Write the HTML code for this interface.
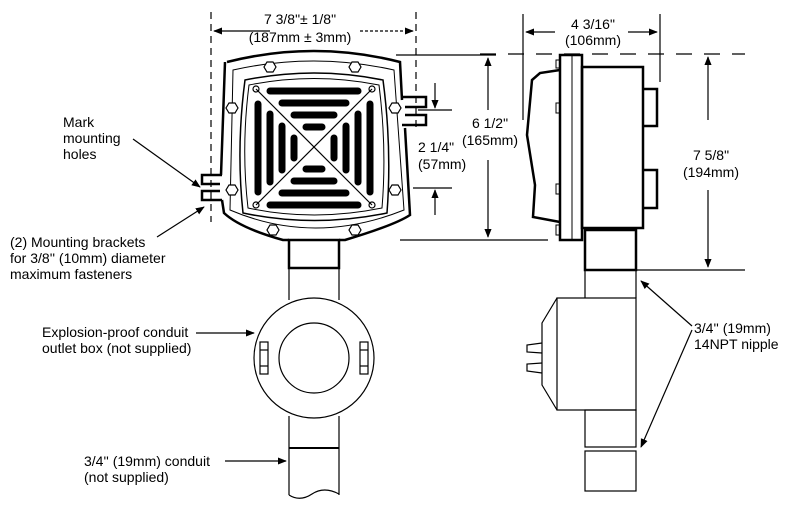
<!DOCTYPE html>
<html><head><meta charset="utf-8"><style>
html,body{margin:0;padding:0;background:#fff;}
svg{display:block;}
text{font-family:"Liberation Sans",sans-serif;font-size:14px;fill:#000;}
</style></head><body>
<svg width="798" height="510" viewBox="0 0 798 510" xmlns="http://www.w3.org/2000/svg">
<defs>
<marker id="ah" viewBox="0 0 10 10" refX="9" refY="5" markerWidth="9" markerHeight="9" orient="auto-start-reverse" markerUnits="userSpaceOnUse"><path d="M0,1 L10,5 L0,9 z" fill="#000"/></marker>
</defs>
<g fill="none" stroke="#000" stroke-width="1.2">
<g>
<line x1="211" y1="12" x2="211" y2="222" stroke-dasharray="7,5"/>
<line x1="416" y1="12" x2="416" y2="130" stroke-dasharray="7,5"/>
<line x1="270" y1="31" x2="214" y2="31" marker-end="url(#ah)"/>
<line x1="360" y1="31" x2="413" y2="31" marker-end="url(#ah)" stroke-dasharray="3,2"/>
</g>
<g>
<line x1="396" y1="55" x2="496" y2="55"/>
<line x1="400" y1="240" x2="496" y2="240"/>
<line x1="488" y1="110" x2="488" y2="58" marker-end="url(#ah)"/>
<line x1="488" y1="160" x2="488" y2="237" marker-end="url(#ah)"/>
</g>
<g>
<line x1="418" y1="110" x2="452" y2="110"/>
<line x1="413" y1="188" x2="452" y2="188"/>
<line x1="435" y1="83" x2="435" y2="108" marker-end="url(#ah)"/>
<line x1="435" y1="215" x2="435" y2="190" marker-end="url(#ah)"/>
</g>
<g stroke-width="2.5">
<path d="M227,62 Q314,40 400,62 L402,100 M405,128 L410,215 Q395,225 345,240 L339,240 M289,240 L283,240 Q240,228 224,213 L222,200 M221,175 L225,62" />
<path d="M233,70 Q314,52 394,70 L404,210 Q314,246 230,210 Z" stroke-width="1"/>
<path d="M245,80 Q314,66 383,80 Q392,148 387,213 Q314,228 243,213 Q236,148 245,80 Z" stroke-width="1.5"/>
<path d="M249,85 Q314,72 379,85 Q387,148 382,208 Q314,222 248,208 Q241,148 249,85 Z" stroke-width="1"/>
</g>
<g stroke-width="7" stroke-linecap="round">
<line x1="270" y1="91" x2="358" y2="91"/><line x1="282" y1="103" x2="346" y2="103"/><line x1="294" y1="115" x2="334" y2="115"/><line x1="306" y1="127" x2="322" y2="127"/>
<line x1="270" y1="205" x2="358" y2="205"/><line x1="282" y1="193" x2="346" y2="193"/><line x1="294" y1="181" x2="334" y2="181"/><line x1="306" y1="169" x2="322" y2="169"/>
<line x1="258" y1="104" x2="258" y2="192"/><line x1="270" y1="114" x2="270" y2="182"/><line x1="282" y1="126" x2="282" y2="170"/><line x1="294" y1="138" x2="294" y2="158"/>
<line x1="370" y1="104" x2="370" y2="192"/><line x1="358" y1="114" x2="358" y2="182"/><line x1="346" y1="126" x2="346" y2="170"/><line x1="334" y1="138" x2="334" y2="158"/>
</g>
<g>
<line x1="256" y1="89" x2="372" y2="205" stroke="#fff" stroke-width="4"/>
<line x1="372" y1="89" x2="256" y2="205" stroke="#fff" stroke-width="4"/>
<line x1="256" y1="89" x2="372" y2="205"/><line x1="372" y1="89" x2="256" y2="205"/>
<circle cx="256" cy="89" r="3"/><circle cx="372" cy="89" r="3"/><circle cx="256" cy="205" r="3"/><circle cx="372" cy="205" r="3"/>
</g>
<g fill="#fff">
<polygon points="276,67 273,72 267,72 264,67 267,62 273,62"/>
<polygon points="361,67 358,72 352,72 349,67 352,62 358,62"/>
<polygon points="238,108 235,113 229,113 226,108 229,103 235,103"/>
<polygon points="401,108 398,113 392,113 389,108 392,103 398,103"/>
<polygon points="238,190 235,195 229,195 226,190 229,185 235,185"/>
<polygon points="401,190 398,195 392,195 389,190 392,185 398,185"/>
<polygon points="279,230 276,235 270,235 267,230 270,225 276,225"/>
<polygon points="361,230 358,235 352,235 349,230 352,225 358,225"/>
</g>
<g stroke-width="2.5">
<path d="M402,97 L426,97 L426,107 L405,107"/><path d="M405,115 L426,115 L426,125 L402,125"/>
</g>
<g stroke-width="2.5">
<path d="M222,175 L202,175 L202,184 L220,184"/><path d="M220,191 L202,191 L202,200 L222,200"/>
</g>
<rect x="289" y="240" width="50" height="28" stroke-width="2.5"/>
<g>
<line x1="289" y1="268" x2="289" y2="300"/><line x1="339" y1="268" x2="339" y2="300"/>
<line x1="289" y1="416" x2="289" y2="495"/><line x1="339" y1="416" x2="339" y2="495"/>
<line x1="289" y1="448" x2="339" y2="448" stroke-width="2"/>
<path d="M289,495 Q300,502 312,494 Q324,486 339,494"/>
</g>
<g>
<circle cx="314" cy="358" r="60" fill="#fff"/>
<circle cx="314" cy="358" r="35"/>
<rect x="260" y="342" width="8" height="32"/><line x1="260" y1="350" x2="268" y2="350"/><line x1="260" y1="366" x2="268" y2="366"/>
<rect x="360" y="342" width="8" height="32"/><line x1="360" y1="350" x2="368" y2="350"/><line x1="360" y1="366" x2="368" y2="366"/>
</g>
<g>
<line x1="523" y1="14" x2="523" y2="120"/>
<line x1="660" y1="14" x2="660" y2="82"/>
<line x1="555" y1="32" x2="526" y2="32" marker-end="url(#ah)"/>
<line x1="628" y1="32" x2="657" y2="32" marker-end="url(#ah)"/>
<line x1="480" y1="54" x2="745" y2="54" stroke-dasharray="16,12"/>
<line x1="496" y1="240" x2="548" y2="240"/>
<line x1="636" y1="270" x2="745" y2="270"/>
<line x1="708" y1="120" x2="708" y2="57" marker-end="url(#ah)"/>
<line x1="708" y1="190" x2="708" y2="267" marker-end="url(#ah)"/>
</g>
<g stroke-width="2.5">
<rect x="560" y="55" width="22" height="185" fill="#fff"/>
<line x1="572" y1="55" x2="572" y2="240" stroke-width="1"/>
<rect x="582" y="67" width="61" height="161"/>
<path d="M560,70 L540,73 L532,80 L527,135 L535,185 L533,217 L560,222"/>
<path d="M643,89 L657,89 L657,126 L643,126 M643,170 L657,170 L657,208 L643,208"/>
<g stroke-width="1"><rect x="556" y="60" width="4" height="8"/><rect x="556" y="103" width="4" height="10"/><rect x="556" y="184" width="4" height="10"/><rect x="556" y="225" width="4" height="10"/></g>
</g>
<rect x="585" y="230" width="51" height="40" stroke-width="2.5"/>
<g>
<line x1="585" y1="270" x2="585" y2="298"/><line x1="636" y1="270" x2="636" y2="298"/>
<rect x="585" y="410" width="51" height="37"/><rect x="585" y="451" width="51" height="40"/>
</g>
<g>
<rect x="557" y="298" width="79" height="112"/>
<path d="M557,298 L542,323 L542,385 L557,410"/>
<path d="M542,343 L527,345 L527,352 L542,353 M542,363 L527,364 L527,371 L542,373"/>
</g>
<g>
<line x1="133" y1="139" x2="200" y2="187" marker-end="url(#ah)"/>
<line x1="157" y1="237" x2="204" y2="207" marker-end="url(#ah)"/>
<line x1="196" y1="333" x2="254" y2="333" marker-end="url(#ah)"/>
<line x1="225" y1="461" x2="286" y2="461" marker-end="url(#ah)"/>
<line x1="692" y1="326" x2="641" y2="281" marker-end="url(#ah)"/>
<line x1="692" y1="330" x2="641" y2="447" marker-end="url(#ah)"/>
</g>
</g>
<g>
<text x="300" y="24" text-anchor="middle">7 3/8"± 1/8"</text>
<text x="300" y="42" text-anchor="middle">(187mm ± 3mm)</text>
<rect x="468" y="112" width="44" height="36" fill="#fff"/>
<text x="490" y="128" text-anchor="middle">6 1/2"</text>
<text x="490" y="145" text-anchor="middle">(165mm)</text>
<text x="418" y="152">2 1/4"</text>
<text x="418" y="169">(57mm)</text>
<text x="593" y="29" text-anchor="middle">4 3/16"</text>
<text x="593" y="45" text-anchor="middle">(106mm)</text>
<text x="711" y="160" text-anchor="middle">7 5/8"</text>
<text x="711" y="177" text-anchor="middle">(194mm)</text>
<text x="63" y="127">Mark</text>
<text x="63" y="143">mounting</text>
<text x="63" y="159">holes</text>
<text x="10" y="247">(2) Mounting brackets</text>
<text x="10" y="263">for 3/8'' (10mm) diameter</text>
<text x="10" y="279">maximum fasteners</text>
<text x="42" y="337">Explosion-proof conduit</text>
<text x="42" y="353">outlet box (not supplied)</text>
<text x="84" y="466">3/4'' (19mm) conduit</text>
<text x="84" y="482">(not supplied)</text>
<text x="694" y="333">3/4''  (19mm)</text>
<text x="694" y="349">14NPT nipple</text>
</g>
</svg>
</body></html>
